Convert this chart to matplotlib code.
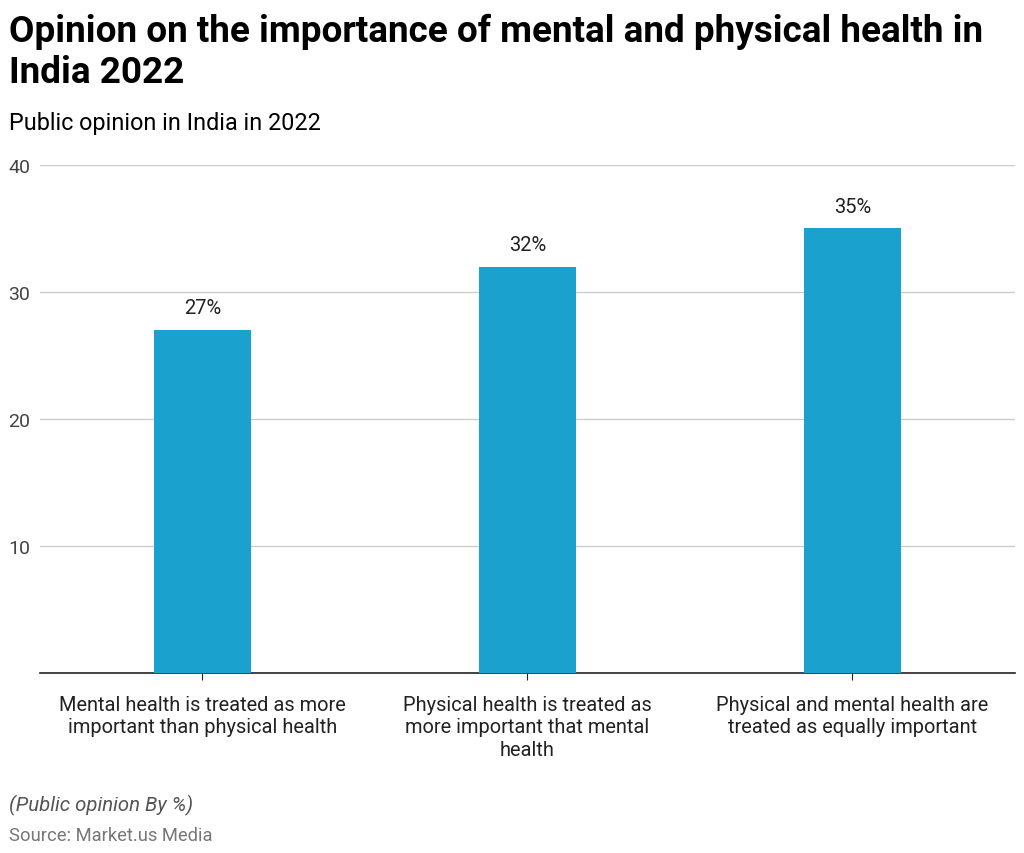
import matplotlib.pyplot as plt

categories = [
    "Mental health is treated as more\nimportant than physical health",
    "Physical health is treated as\nmore important that mental\nhealth",
    "Physical and mental health are\ntreated as equally important",
]
values = [27, 32, 35]
yticks = [10, 20, 30, 40]

plt.rcParams['font.family'] = ['Roboto', 'DejaVu Sans']

fig = plt.figure(figsize=(10.24, 8.54), dpi=100)
ax = fig.add_axes([0.039, 0.2111, 0.952, 0.5945])

x = range(len(values))
bars = ax.bar(x, values, width=0.3, color='#1aa1ce', zorder=3)
for xi, v in zip(x, values):
    ax.text(xi, v + 1.0, "{0}%".format(v), ha='center', va='bottom',
            fontsize=14.5, color='#222222')

ax.set_xlim(-0.5, 2.5)
ax.set_ylim(0, 40)
ax.set_yticks(yticks)
ax.set_xticks(list(x))
ax.set_xticklabels(categories, fontsize=14.4, color='#222222', linespacing=1.22)
ax.grid(axis='y', color='#cccccc', linewidth=1, zorder=0)
for s in ['top', 'right', 'left']:
    ax.spines[s].set_visible(False)
ax.spines['bottom'].set_color('#222222')
ax.spines['bottom'].set_linewidth(1.2)
ax.tick_params(axis='y', length=0, labelsize=14, labelcolor='#444444', pad=7)
ax.tick_params(axis='x', length=5, color='#222222', pad=11)

fig.text(0.009, 0.984, "Opinion on the importance of mental and physical health in\nIndia 2022",
         fontsize=26.6, fontweight='bold', va='top', ha='left', linespacing=1.18)
fig.text(0.009, 0.855, "Public opinion in India in 2022", fontsize=16.8, va='center', ha='left')
fig.text(0.009, 0.057, "(Public opinion By %)", fontsize=14.7, style='italic',
         color='#555555', va='center', ha='left')
fig.text(0.009, 0.021, "Source: Market.us Media", fontsize=13.2, color='#777777',
         va='center', ha='left')

fig.savefig('out.png', dpi=100)
